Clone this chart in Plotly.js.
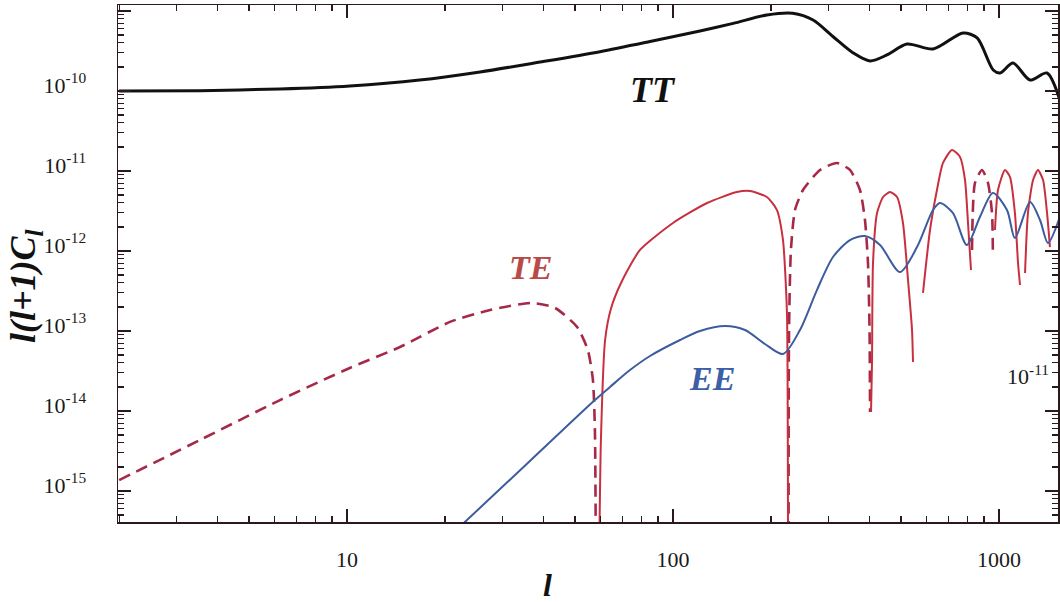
<!DOCTYPE html>
<html><head><meta charset="utf-8">
<script src="https://cdn.plot.ly/plotly-3.0.1.min.js"></script>
<style>html,body{margin:0;padding:0;background:#fff}#chart{width:1060px;height:602px}</style>
</head><body><div id="chart"></div>
<script>
// TT spectrum
const tt_l  = [2, 3.54, 6.23, 10.2, 16.7, 25.6, 39.1, 59.7, 85, 121, 153, 194, 233, 269, 310, 357, 402, 453, 522, 628, 776, 857, 960, 1008, 1104, 1245, 1403, 1537];
const tt_cl = [1.0e-10, 1.01e-10, 1.06e-10, 1.155e-10, 1.37e-10, 1.73e-10, 2.30e-10, 3.10e-10, 4.15e-10, 5.62e-10, 7.00e-10, 8.91e-10, 9.36e-10, 7.72e-10, 4.77e-10, 2.99e-10, 2.37e-10, 2.82e-10, 3.87e-10, 3.35e-10, 5.31e-10, 4.60e-10, 1.83e-10, 1.68e-10, 2.24e-10, 1.37e-10, 1.68e-10, 7.72e-11];

// EE spectrum
const ee_l  = [21, 36.4, 57.6, 64.1, 73.8, 85.0, 105.1, 121, 144.4, 166.3, 191.5, 217.5, 245.2, 276.4, 309.6, 349, 388, 431.5, 497, 560.4, 627.4, 659, 722, 797, 874, 958, 1058, 1119, 1245, 1336, 1413, 1537];
const ee_cl = [2.9e-16, 2.37e-15, 1.37e-14, 2.0e-14, 3.25e-14, 4.87e-14, 7.72e-14, 1.0e-13, 1.155e-13, 1.03e-13, 6.88e-14, 5.16e-14, 1.03e-13, 3.25e-13, 8.41e-13, 1.37e-12, 1.54e-12, 1.19e-12, 5.46e-13, 1.12e-12, 3.25e-12, 3.98e-12, 2.99e-12, 1.19e-12, 2.66e-12, 5.31e-12, 3.25e-12, 1.45e-12, 4.10e-12, 2.44e-12, 1.26e-12, 2.66e-12];

// TE positive part (solid), segments separated by null
const te_pos_l  = [59.3, 60.1, 61.9, 64.5, 69.5, 79.2, 100, 127.2, 157.1, 172.3, 194, 208.4, 217.5, 220.7, 223.8, 225.4, null,
                   405, 407.8, 410.7, 422.6, 441, 463, 486.6, 507.5, 525.9, 541, 544.8, null,
                   584.6, 614.3, 645.2, 673.3, 717.6, 759.4, 786.6, 803.4, 820.6, null,
                   972, 993, 1043, 1081, 1119, 1144, 1160, null,
                   1202, 1227, 1272, 1317, 1365, 1404, 1433];
const te_pos_cl = [1e-16, 4.34e-15, 7.72e-14, 1.90e-13, 4.10e-13, 1.03e-12, 2.24e-12, 3.98e-12, 5.46e-12, 5.62e-12, 4.73e-12, 3.25e-12, 1.37e-12, 5.79e-13, 1.50e-13, 1e-16, null,
                   9.72e-15, 3.98e-14, 7.08e-13, 2.99e-12, 4.73e-12, 5.46e-12, 4.73e-12, 2.24e-12, 4.34e-13, 1.03e-13, 4.10e-14, null,
                   2.99e-13, 1.83e-12, 5.79e-12, 1.26e-11, 1.83e-11, 1.50e-11, 7.72e-12, 2.24e-12, 5.79e-13, null,
                   1.83e-12, 5.79e-12, 1.03e-11, 8.41e-12, 2.99e-12, 7.08e-13, 3.76e-13, null,
                   5.31e-13, 2.99e-12, 7.72e-12, 1.03e-11, 7.72e-12, 2.99e-12, 1.12e-12];

// TE negative part (|TE|, dashed)
const te_neg_l  = [2, 3.54, 6.23, 10.2, 14.54, 20.7, 27.5, 36.9, 43.5, 50.8, 54.8, 56.8, 57.6, 58.0, null,
                   226.2, 227, 230, 236.7, 250.5, 282.5, 318.4, 349, 374.6, 388, 396.4, 400.8, 402.2, null,
                   826.4, 844, 887, 925.3, 951.8, 958];
const te_neg_cl = [1.37e-15, 4.34e-15, 1.37e-14, 3.45e-14, 6.31e-14, 1.30e-13, 1.83e-13, 2.24e-13, 1.94e-13, 1.12e-13, 5.79e-14, 2.44e-14, 5.79e-15, 1e-16, null,
                   1e-16, 1.03e-13, 1.03e-12, 3.25e-12, 5.79e-12, 1.03e-11, 1.26e-11, 1.03e-11, 5.79e-12, 2.44e-12, 7.08e-13, 1.03e-13, 9.72e-15, null,
                   1.03e-12, 7.08e-12, 1.03e-11, 7.08e-12, 2.99e-12, 8.41e-13];

const x_tick_vals = [10, 100, 1000];
const x_tick_text = ['10', '100', '1000'];
const y_tick_vals = [1e-15, 1e-14, 1e-13, 1e-12, 1e-11, 1e-10, 1e-9];
const y_tick_text = ['10<sup>-15</sup>', '10<sup>-14</sup>', '10<sup>-13</sup>', '10<sup>-12</sup>', '10<sup>-11</sup>', '10<sup>-10</sup>', ''];

// minor tick positions (2..9 within each decade)
function minorTicks(lo, hi) {
  const out = [];
  for (let e = lo; e <= hi; e++) for (let m = 2; m <= 9; m++) out.push(m * Math.pow(10, e));
  return out;
}
const x_minor = minorTicks(0, 3);
const y_minor = minorTicks(-16, -9);

const serif = 'Liberation Serif, Times New Roman, serif';
const axisColor = '#2a1a1e';
const xRange = [0.2975, 3.181];
const yRange = [-15.3875, -8.925];

const traces = [
  {x: tt_l, y: tt_cl, type: 'scatter', mode: 'lines', name: 'TT',
   line: {color: '#111111', width: 3, shape: 'spline', smoothing: 0.8}},
  {x: te_neg_l, y: te_neg_cl, type: 'scatter', mode: 'lines', name: 'TE (negative)', connectgaps: false,
   line: {color: '#a62a48', width: 2.6, dash: '12px,7px', shape: 'spline', smoothing: 0.6}},
  {x: te_pos_l, y: te_pos_cl, type: 'scatter', mode: 'lines', name: 'TE', connectgaps: false,
   line: {color: '#c8303f', width: 2, shape: 'spline', smoothing: 0.6}},
  {x: ee_l, y: ee_cl, type: 'scatter', mode: 'lines', name: 'EE',
   line: {color: '#3d5c9e', width: 2, shape: 'spline', smoothing: 0.8}},
  // empty trace that only carries the minor-tick overlay axes
  {x: [null], y: [null], type: 'scatter', mode: 'lines', xaxis: 'x2', yaxis: 'y2', hoverinfo: 'skip', showlegend: false}
];

const axisCommon = {
  type: 'log', showgrid: false, zeroline: false,
  showline: true, linecolor: axisColor, linewidth: 1.5, mirror: 'allticks',
  ticks: 'inside', ticklen: 13, tickwidth: 1.5, tickcolor: axisColor,
  tickfont: {family: serif, size: 22, color: '#1a1a1a'},
  tickmode: 'array'
};
const minorAxis = {
  type: 'log', showgrid: false, zeroline: false, showticklabels: false,
  showline: true, linecolor: axisColor, linewidth: 1.5, mirror: 'allticks',
  ticks: 'inside', ticklen: 6, tickwidth: 1.3, tickcolor: axisColor, tickmode: 'array'
};

const layout = {
  width: 1060, height: 602,
  margin: {l: 118, r: 2, t: 5, b: 80},
  paper_bgcolor: '#ffffff', plot_bgcolor: '#ffffff',
  showlegend: false,
  xaxis: Object.assign({}, axisCommon, {
    range: xRange, tickvals: x_tick_vals, ticktext: x_tick_text, ticklabelstandoff: 17
  }),
  yaxis: Object.assign({}, axisCommon, {
    range: yRange, tickvals: y_tick_vals, ticktext: y_tick_text, ticklabelstandoff: 26, ticklabelshift: -6
  }),
  xaxis2: Object.assign({}, minorAxis, {range: xRange, tickvals: x_minor, overlaying: 'x', anchor: 'y2', side: 'bottom'}),
  yaxis2: Object.assign({}, minorAxis, {range: yRange, tickvals: y_minor, overlaying: 'y', anchor: 'x2', side: 'left'}),
  annotations: [
    {text: '<b><i>TT</i></b>', xref: 'paper', yref: 'paper', x: 0.569, y: 0.8356, xanchor: 'center', yanchor: 'middle', showarrow: false,
     font: {family: serif, size: 36, color: '#111111'}},
    {text: '<b><i>TE</i></b>', xref: 'paper', yref: 'paper', x: 0.4383, y: 0.4913, xanchor: 'center', yanchor: 'middle', showarrow: false,
     font: {family: serif, size: 34, color: '#b84a48'}},
    {text: '<b><i>EE</i></b>', xref: 'paper', yref: 'paper', x: 0.6319, y: 0.2785, xanchor: 'center', yanchor: 'middle', showarrow: false,
     font: {family: serif, size: 34, color: '#3d5fa8'}},
    {text: '10<sup>-11</sup>', xref: 'paper', yref: 'paper', x: 0.968, y: 0.2843, xanchor: 'center', yanchor: 'middle', showarrow: false,
     font: {family: serif, size: 22, color: '#1a1a1a'}},
    {text: '<b><i>l(l+1)C<sub>l</sub></i></b>', xref: 'paper', yref: 'paper', x: -0.0979, y: 0.4565, xanchor: 'center', yanchor: 'middle', showarrow: false,
     textangle: -90, font: {family: serif, size: 36, color: '#111111'}},
    {text: '<b><i>l</i></b>', xref: 'paper', yref: 'paper', x: 0.4574, y: -0.122, xanchor: 'center', yanchor: 'middle', showarrow: false,
     font: {family: serif, size: 32, color: '#111111'}}
  ]
};

Plotly.newPlot('chart', traces, layout, {displayModeBar: false, staticPlot: true});
</script>
</body></html>
